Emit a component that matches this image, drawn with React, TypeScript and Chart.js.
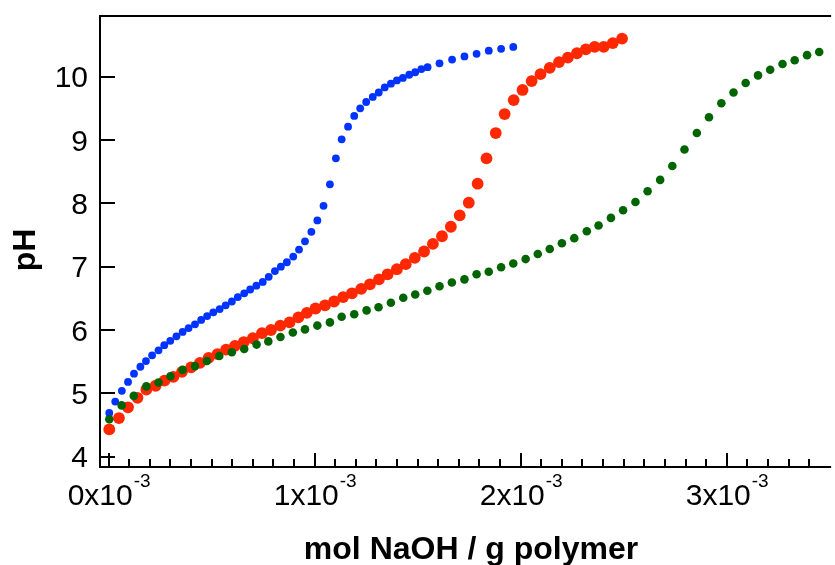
import React, { useEffect, useRef } from "react";
import { Chart, registerables } from "chart.js";

Chart.register(...registerables);

// x values in units of 10^-3 mol NaOH / g polymer, y = pH
const blueX = [0.003, 0.032, 0.064, 0.094, 0.123, 0.154, 0.181, 0.211, 0.242, 0.270, 0.299, 0.329, 0.359, 0.388, 0.419, 0.449, 0.478, 0.508, 0.539, 0.568, 0.598, 0.627, 0.658, 0.687, 0.717, 0.748, 0.777, 0.807, 0.836, 0.865, 0.896, 0.924, 0.953, 0.984, 1.013, 1.043, 1.074, 1.103, 1.131, 1.162, 1.192, 1.221, 1.250, 1.282, 1.311, 1.340, 1.370, 1.399, 1.428, 1.459, 1.488, 1.518, 1.548, 1.606, 1.667, 1.727, 1.786, 1.845, 1.905, 1.964];
const blueY = [4.69, 4.87, 5.04, 5.18, 5.31, 5.42, 5.51, 5.60, 5.68, 5.76, 5.83, 5.90, 5.97, 6.03, 6.09, 6.16, 6.22, 6.28, 6.33, 6.39, 6.45, 6.52, 6.58, 6.64, 6.70, 6.76, 6.84, 6.93, 7.00, 7.07, 7.16, 7.27, 7.40, 7.55, 7.73, 7.96, 8.30, 8.71, 9.01, 9.21, 9.38, 9.50, 9.60, 9.68, 9.75, 9.83, 9.89, 9.94, 9.98, 10.03, 10.07, 10.12, 10.15, 10.21, 10.27, 10.32, 10.36, 10.41, 10.44, 10.47];

const redX = [0.003, 0.050, 0.094, 0.140, 0.183, 0.228, 0.271, 0.314, 0.356, 0.400, 0.443, 0.485, 0.528, 0.570, 0.613, 0.656, 0.700, 0.744, 0.788, 0.833, 0.878, 0.921, 0.962, 1.004, 1.050, 1.094, 1.138, 1.181, 1.226, 1.268, 1.312, 1.354, 1.399, 1.442, 1.486, 1.531, 1.574, 1.618, 1.661, 1.704, 1.748, 1.791, 1.834, 1.879, 1.922, 1.966, 2.009, 2.053, 2.096, 2.141, 2.186, 2.229, 2.273, 2.316, 2.359, 2.403, 2.447, 2.492];
const redY = [4.43, 4.61, 4.78, 4.93, 5.06, 5.12, 5.20, 5.26, 5.34, 5.41, 5.48, 5.56, 5.62, 5.69, 5.75, 5.81, 5.87, 5.95, 6.00, 6.07, 6.12, 6.20, 6.27, 6.34, 6.39, 6.45, 6.52, 6.58, 6.65, 6.72, 6.80, 6.88, 6.96, 7.04, 7.14, 7.24, 7.36, 7.48, 7.63, 7.81, 8.01, 8.31, 8.71, 9.11, 9.41, 9.63, 9.79, 9.93, 10.04, 10.14, 10.23, 10.30, 10.37, 10.43, 10.47, 10.47, 10.53, 10.60];

const greenX = [0.003, 0.063, 0.122, 0.183, 0.242, 0.300, 0.359, 0.419, 0.477, 0.537, 0.598, 0.658, 0.718, 0.775, 0.834, 0.894, 0.953, 1.013, 1.074, 1.131, 1.192, 1.252, 1.310, 1.370, 1.430, 1.488, 1.547, 1.606, 1.666, 1.727, 1.786, 1.845, 1.905, 1.964, 2.024, 2.083, 2.141, 2.200, 2.260, 2.321, 2.378, 2.438, 2.497, 2.557, 2.616, 2.677, 2.736, 2.795, 2.855, 2.914, 2.974, 3.033, 3.092, 3.152, 3.211, 3.271, 3.330, 3.390, 3.449];
const greenY = [4.59, 4.81, 4.96, 5.11, 5.17, 5.27, 5.37, 5.43, 5.51, 5.59, 5.65, 5.70, 5.77, 5.82, 5.89, 5.96, 6.01, 6.07, 6.12, 6.21, 6.25, 6.31, 6.36, 6.43, 6.51, 6.56, 6.62, 6.69, 6.75, 6.80, 6.88, 6.92, 6.99, 7.05, 7.12, 7.20, 7.28, 7.37, 7.45, 7.56, 7.65, 7.77, 7.89, 8.02, 8.19, 8.37, 8.59, 8.85, 9.11, 9.36, 9.58, 9.75, 9.90, 10.02, 10.11, 10.20, 10.26, 10.34, 10.39];

const yTicks = [4, 5, 6, 7, 8, 9, 10];
const xMajorTicks = [0, 1, 2, 3];
const xTickLabels = ["0x10", "1x10", "2x10", "3x10"];
const xTickExponent = "-3";
const xMinorStep = 0.1;

const xTitle = "mol NaOH / g polymer";
const yTitle = "pH";

const FONT = '"Liberation Sans", Arial, Helvetica, sans-serif';

const toPts = (xs: number[], ys: number[]) => xs.map((x, i) => ({ x, y: ys[i] }));

const axesPlugin = {
  id: "customAxes",
  afterDraw(chart: any) {
    const ctx = chart.ctx as CanvasRenderingContext2D;
    const { left, top, right, bottom } = chart.chartArea;
    const xs = chart.scales.x;
    const ys = chart.scales.y;
    ctx.save();
    ctx.strokeStyle = "#000";
    ctx.fillStyle = "#000";
    ctx.lineWidth = 2;
    ctx.lineCap = "butt";
    // frame: left, top, bottom
    ctx.beginPath();
    ctx.moveTo(left, bottom + 1);
    ctx.lineTo(left, top - 1);
    ctx.moveTo(left - 1, top);
    ctx.lineTo(right + 2, top);
    ctx.moveTo(left - 1, bottom);
    ctx.lineTo(right + 2, bottom);
    ctx.stroke();

    // y ticks (inward)
    ctx.beginPath();
    yTicks.forEach((v) => {
      const py = Math.round(ys.getPixelForValue(v));
      ctx.moveTo(left, py);
      ctx.lineTo(left + 15, py);
    });
    ctx.stroke();

    // x minor & major ticks (inward)
    ctx.beginPath();
    const maxX = xs.max;
    for (let k = 0; k * xMinorStep <= maxX + 1e-9; k++) {
      const v = k * xMinorStep;
      const px = Math.round(xs.getPixelForValue(v));
      const isMajor = k % 10 === 0;
      ctx.moveTo(px, bottom);
      ctx.lineTo(px, bottom - (isMajor ? 14 : 8));
    }
    ctx.stroke();

    // y tick labels
    ctx.font = `30px ${FONT}`;
    ctx.textAlign = "right";
    ctx.textBaseline = "alphabetic";
    yTicks.forEach((v) => {
      const py = ys.getPixelForValue(v);
      ctx.fillText(String(v), left - 12, py + 10.7);
    });

    // x tick labels with superscript exponent
    xMajorTicks.forEach((v, i) => {
      const px = xs.getPixelForValue(v);
      ctx.font = `30px ${FONT}`;
      const w1 = ctx.measureText(xTickLabels[i]).width;
      ctx.font = `19px ${FONT}`;
      const w2 = ctx.measureText(xTickExponent).width;
      const x0 = px - (w1 + w2) / 2;
      ctx.textAlign = "left";
      ctx.font = `30px ${FONT}`;
      ctx.fillText(xTickLabels[i], x0, 505);
      ctx.font = `19px ${FONT}`;
      ctx.fillText(xTickExponent, x0 + w1 + 1, 487);
    });

    // x title
    ctx.font = `bold 32px ${FONT}`;
    ctx.textAlign = "center";
    ctx.fillText(xTitle, 471, 559);

    // y title
    ctx.save();
    ctx.translate(35, 250);
    ctx.rotate(-Math.PI / 2);
    ctx.font = `bold 32px ${FONT}`;
    ctx.textAlign = "center";
    ctx.fillText(yTitle, 0, 0);
    ctx.restore();

    ctx.restore();
  },
};

export default function App() {
  const ref = useRef<HTMLCanvasElement | null>(null);
  useEffect(() => {
    if (!ref.current) return;
    const chart = new Chart(ref.current, {
      type: "scatter",
      data: {
        datasets: [
          {
            label: "green",
            data: toPts(greenX, greenY),
            backgroundColor: "rgb(0,100,0)",
            borderWidth: 0,
            pointRadius: 4.3,
            order: 0,
          },
          {
            label: "red",
            data: toPts(redX, redY),
            backgroundColor: "rgb(255,40,0)",
            borderWidth: 0,
            pointRadius: 5.9,
            order: 1,
          },
          {
            label: "blue",
            data: toPts(blueX, blueY),
            backgroundColor: "rgb(0,51,255)",
            borderWidth: 0,
            pointRadius: 3.9,
            order: 2,
          },
        ],
      },
      options: {
        animation: false,
        responsive: false,
        devicePixelRatio: 1,
        layout: { padding: { left: 100, top: 16, right: 0, bottom: 98 } },
        plugins: { legend: { display: false }, tooltip: { enabled: false } },
        scales: {
          x: { type: "linear", display: false, min: -0.042, max: 3.497 },
          y: { type: "linear", display: false, min: 3.837, max: 10.958 },
        },
        datasets: { scatter: { clip: false } as any },
      },
      plugins: [axesPlugin],
    });
    return () => chart.destroy();
  }, []);
  return (
    <div style={{ position: "absolute", left: 0, top: 0, width: 835, height: 565, background: "#fff" }}>
      <canvas ref={ref} width={835} height={565} />
    </div>
  );
}
